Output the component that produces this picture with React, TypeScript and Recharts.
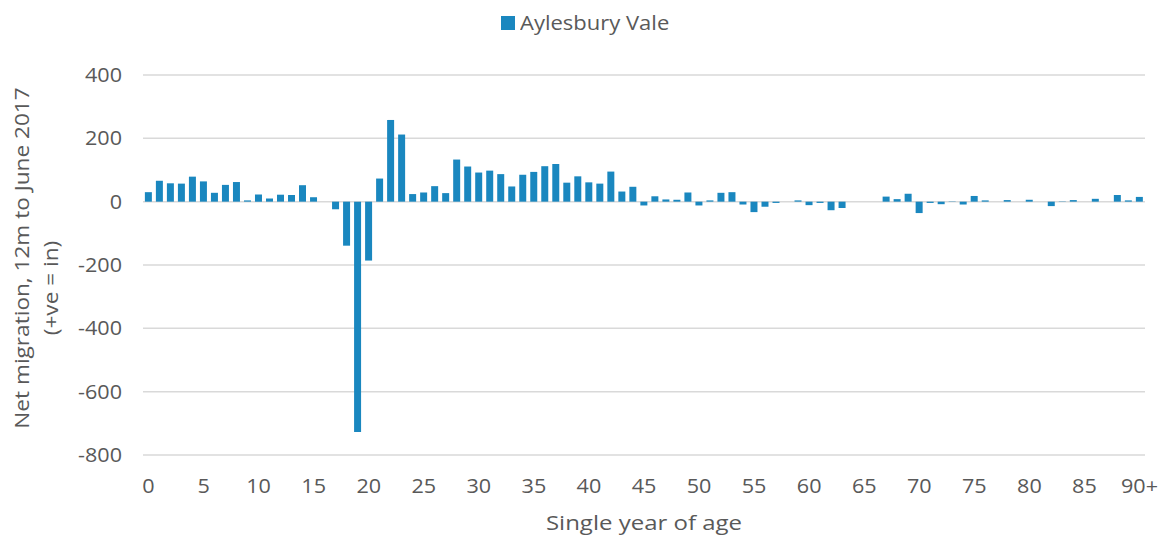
import React from "react";
import {
  BarChart,
  Bar,
  CartesianGrid,
  XAxis,
  YAxis,
  Legend,
  Label,
} from "recharts";

// single year of age, 0 .. 90+
const ages: string[] = [
  "0", "1", "2", "3", "4", "5", "6", "7", "8", "9",
  "10", "11", "12", "13", "14", "15", "16", "17", "18", "19",
  "20", "21", "22", "23", "24", "25", "26", "27", "28", "29",
  "30", "31", "32", "33", "34", "35", "36", "37", "38", "39",
  "40", "41", "42", "43", "44", "45", "46", "47", "48", "49",
  "50", "51", "52", "53", "54", "55", "56", "57", "58", "59",
  "60", "61", "62", "63", "64", "65", "66", "67", "68", "69",
  "70", "71", "72", "73", "74", "75", "76", "77", "78", "79",
  "80", "81", "82", "83", "84", "85", "86", "87", "88", "89",
  "90+",
];

// net migration, 12m to June 2017
const aylesburyVale: number[] = [
  30, 66, 58, 57, 79, 64, 28, 53, 62, 4,
  23, 10, 22, 21, 52, 14, 0, -24, -139, -727,
  -186, 73, 258, 212, 24, 29, 49, 27, 133, 111,
  92, 98, 87, 48, 85, 94, 112, 119, 60, 80,
  61, 57, 95, 32, 47, -12, 17, 7, 6, 29,
  -12, 4, 28, 30, -9, -33, -16, -4, 0, 4,
  -11, -4, -27, -20, 0, 0, 0, 16, 8, 25,
  -36, -4, -8, -1, -9, 18, 4, 0, 5, 0,
  6, 0, -14, 1, 5, 0, 9, 0, 21, 4,
  15,
];

const yTicks: number[] = [-800, -600, -400, -200, 0, 200, 400];

const data = ages.map((age, i) => ({
  age,
  value: aylesburyVale[i],
}));

const FONT = "'Open Sans', sans-serif";
const TEXT = "#595959";
const BLUE = "#1a87bf";

// the reference text is a little wider than Open Sans
const Txt = (p: {
  x: number;
  y: number;
  anchor?: string;
  size?: number;
  sx?: number;
  rot?: number;
  children: React.ReactNode;
}) => (
  <text
    transform={`translate(${p.x},${p.y}) rotate(${p.rot || 0}) scale(${p.sx || 1.08},1)`}
    textAnchor={p.anchor || "middle"}
    fill={TEXT}
    fontSize={p.size || 20}
    fontFamily={FONT}
  >
    {p.children}
  </text>
);

const XTick = (props: any) => (
  <Txt x={props.x} y={props.y + 38}>
    {props.payload.value}
  </Txt>
);

const YTick = (props: any) => (
  <Txt x={props.x - 21} y={props.y + 7} anchor="end">
    {props.payload.value}
  </Txt>
);

const XTitle = (props: any) => {
  const vb = props.viewBox || {};
  return (
    <Txt x={vb.x + vb.width / 2} y={530} sx={1.2}>
      Single year of age
    </Txt>
  );
};

const YTitle = (props: any) => {
  const vb = props.viewBox || {};
  const cy = vb.y + vb.height / 2;
  return (
    <g>
      <Txt x={29} y={cy - 7} rot={-90} sx={1.13}>
        Net migration, 12m to June 2017
      </Txt>
      <Txt x={58} y={cy + 23} rot={-90} sx={1.13}>
        (+ve = in)
      </Txt>
    </g>
  );
};

const LegendBox = () => (
  <div
    style={{
      height: 24,
      position: "relative",
      fontFamily: FONT,
    }}
  >
    <span
      style={{
        position: "absolute",
        left: 501,
        top: 8,
        width: 14,
        height: 14,
        background: BLUE,
      }}
    />
    <span
      style={{
        position: "absolute",
        left: 520,
        top: 0,
        fontSize: 20,
        lineHeight: "30px",
        color: TEXT,
        whiteSpace: "nowrap",
        transform: "scaleX(1.1)",
        transformOrigin: "left center",
      }}
    >
      Aylesbury Vale
    </span>
  </div>
);

export default function App() {
  return (
    <div style={{ position: "absolute", left: 0, top: 0 }}>
      <BarChart
        width={1162}
        height={538}
        data={data}
        margin={{ top: 51, right: 17, left: 0, bottom: 0 }}
        barCategoryGap="17%"
      >
        <CartesianGrid
          horizontal={true}
          vertical={false}
          stroke="#d9d9d9"
          strokeWidth={1.5}
        />

        <XAxis
          dataKey="age"
          interval={4}
          axisLine={false}
          tickLine={false}
          tickSize={0}
          tickMargin={0}
          height={83}
          tick={<XTick />}
        >
          <Label content={XTitle} />
        </XAxis>

        <YAxis
          width={143}
          domain={[-800, 400]}
          ticks={yTicks}
          axisLine={false}
          tickLine={false}
          tickSize={0}
          tickMargin={0}
          tick={<YTick />}
        >
          <Label content={YTitle} />
        </YAxis>

        <Legend
          verticalAlign="top"
          align="left"
          content={LegendBox}
          wrapperStyle={{ top: 8, left: 0, width: 1162, height: 24 }}
        />

        <Bar
          dataKey="value"
          name="Aylesbury Vale"
          fill={BLUE}
          isAnimationActive={false}
        />
      </BarChart>
    </div>
  );
}
